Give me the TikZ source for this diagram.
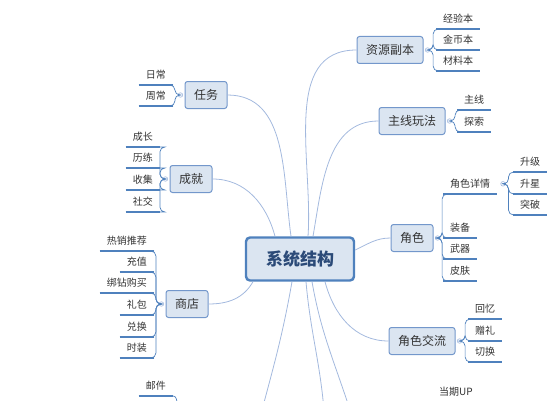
\documentclass[tikz,border=0pt]{standalone}
\usepackage{fontspec}
\setmainfont{Noto Sans CJK SC}
\usepackage{tikz}
\usetikzlibrary{positioning}
\definecolor{mmblue}{HTML}{4F81BD}
\definecolor{mmfill}{HTML}{DBE5F1}
\definecolor{mmedge}{HTML}{7397CB}
\definecolor{mmlink}{HTML}{A3B9DE}
\definecolor{mmink}{HTML}{333333}
\definecolor{mmtitle}{HTML}{2B4A78}

\begin{document}
\begin{tikzpicture}[x=1pt,y=1pt,
  sysbox/.style={draw=mmblue, fill=mmfill, line width=2.4pt, rounded corners=4pt,
    inner xsep=20pt, minimum height=43pt, text=mmtitle, font=\fontsize{17}{20}\selectfont\bfseries},
  branch/.style={draw=mmedge, fill=mmfill, line width=1pt, rounded corners=2.5pt,
    inner xsep=9pt, minimum height=27pt, text=mmink, font=\fontsize{12}{14}\selectfont},
  leaf/.style={inner xsep=7pt, inner ysep=0pt, minimum height=20pt, text=mmink,
    font=\fontsize{10}{12}\selectfont},
  knob/.style={circle, draw=mmlink, fill=white, line width=0.6pt, inner sep=0pt, minimum size=4.5pt},
  link/.style={draw=mmlink, line width=0.8pt},
  brk/.style={draw=mmblue, line width=0.7pt, rounded corners=5pt},
  uline/.style={draw=mmblue, line width=1.6pt}]
  \useasboundingbox (0,0) rectangle (557,400);
  \clip (0,0) rectangle (557,400);

  % centre
  \node[sysbox] (sys) at (300,141) {系统结构};

  % branches
  \node[branch] (zy) at (390,350) {资源副本};
  \node[branch] (zx) at (412,279) {主线玩法};
  \node[branch] (js) at (412,162) {角色};
  \node[branch] (jl) at (422,59) {角色交流};
  \node[branch] (rw) at (206,305) {任务};
  \node[branch] (cj) at (191,221) {成就};
  \node[branch] (sd) at (187,96) {商店};

  \node[knob, right=1.5pt of zy] (zyk) {};
  \node[knob, right=1.5pt of zx] (zxk) {};
  \node[knob, right=1.5pt of js] (jsk) {};
  \node[knob, right=1.5pt of jl] (jlk) {};
  \node[knob, left=1.5pt of rw] (rwk) {};
  \node[knob, left=1.5pt of cj] (cjk) {};
  \node[knob, left=1.5pt of sd] (sdk) {};

  % leaves, right side
  \node[leaf, anchor=south west] (zy1) at (436,371) {经验本};
  \node[leaf, anchor=south west] (zy2) at (436,350) {金币本};
  \node[leaf, anchor=south west] (zy3) at (436,329) {材料本};
  \node[leaf, anchor=south west] (zx1) at (457,290) {主线};
  \node[leaf, anchor=south west] (zx2) at (457,268) {探索};
  \node[leaf, anchor=south west] (js1) at (443,206) {角色详情};
  \node[leaf, anchor=south west] (js2) at (443,162) {装备};
  \node[leaf, anchor=south west] (js3) at (443,141) {武器};
  \node[leaf, anchor=south west] (js4) at (443,119) {皮肤};
  \node[knob, right=3pt of js1] (js1k) {};
  \node[leaf, anchor=south west] (xq1) at (513,228) {升级};
  \node[leaf, anchor=south west] (xq2) at (513,206) {升星};
  \node[leaf, anchor=south west] (xq3) at (513,185) {突破};
  \node[leaf, anchor=south west] (jl1) at (468,81) {回忆};
  \node[leaf, anchor=south west] (jl2) at (468,59) {赠礼};
  \node[leaf, anchor=south west] (jl3) at (468,38) {切换};
  \node[leaf, anchor=south west] (up1) at (432,-2) {当期UP};

  % leaves, left side
  \node[leaf, anchor=south east] (rw1) at (173,315) {日常};
  \node[leaf, anchor=south east] (rw2) at (173,294) {周常};
  \node[leaf, anchor=south east] (cj1) at (160,253) {成长};
  \node[leaf, anchor=south east] (cj2) at (160,232) {历练};
  \node[leaf, anchor=south east] (cj3) at (160,210) {收集};
  \node[leaf, anchor=south east] (cj4) at (160,188) {社交};
  \node[leaf, anchor=south east] (sd1) at (154,149) {热销推荐};
  \node[leaf, anchor=south east] (sd2) at (154,128) {充值};
  \node[leaf, anchor=south east] (sd3) at (154,107) {绑钻购买};
  \node[leaf, anchor=south east] (sd4) at (154,85) {礼包};
  \node[leaf, anchor=south east] (sd5) at (154,63) {兑换};
  \node[leaf, anchor=south east] (sd6) at (154,42) {时装};
  \node[leaf, anchor=south east] (yj1) at (173,4) {邮件};

  % underlines
  \foreach \t in {zy1,zy2,zy3,zx1,zx2,js1,js2,js3,js4,xq1,xq2,xq3,jl1,jl2,jl3,up1,
                  rw1,rw2,cj1,cj2,cj3,cj4,sd1,sd2,sd3,sd4,sd5,sd6,yj1}
    \draw[uline] (\t.south west) -- (\t.south east);

  % brackets
  \foreach \t in {zy1,zy2,zy3} \draw[brk] (zyk.east) -- ++(3pt,0) |- (\t.south west);
  \foreach \t in {zx1,zx2} \draw[brk] (zxk.east) -- ++(3pt,0) |- (\t.south west);
  \foreach \t in {js1,js2,js3,js4} \draw[brk] (jsk.east) -- ++(2pt,0) |- (\t.south west);
  \foreach \t in {xq1,xq2,xq3} \draw[brk] (js1k.east) -- ++(3pt,0) |- (\t.south west);
  \foreach \t in {jl1,jl2,jl3} \draw[brk] (jlk.east) -- ++(3pt,0) |- (\t.south west);
  \foreach \t in {rw1,rw2} \draw[brk] (rwk.west) -- ++(-3pt,0) |- (\t.south east);
  \foreach \t in {cj1,cj2,cj3,cj4} \draw[brk] (cjk.west) -- ++(-3pt,0) |- (\t.south east);
  \foreach \t in {sd1,sd2,sd3,sd4,sd5,sd6} \draw[brk] (sdk.west) -- ++(-3pt,0) |- (\t.south east);
  \draw[brk] (yj1.south east) to[out=0,in=90] ++(4pt,-8pt);

  % links from the centre
  \coordinate (d1) at (262,-10);
  \coordinate (d2) at (324,-10);
  \coordinate (d3) at (350,-10);
  \draw[link] ([xshift=8pt]sys.north) to[out=86,in=180] (zy.west);
  \draw[link] ([xshift=13pt]sys.north) to[out=80,in=180] (zx.west);
  \draw[link] ([xshift=-9pt]sys.north) to[out=98,in=0] (rw.east);
  \draw[link] ([xshift=-25pt]sys.north) to[out=105,in=0] (cj.east);
  \draw[link] ([xshift=-47pt]sys.south) to[out=-120,in=0] (sd.east);
  \draw[link] ([yshift=9pt]sys.east) to[out=25,in=180] (js.west);
  \draw[link] ([xshift=25pt]sys.south) to[out=-75,in=180] (jl.west);
  \draw[link] ([xshift=-8pt]sys.south) to[out=-100,in=75] (d1);
  \draw[link] ([xshift=6pt]sys.south) to[out=-85,in=95] (d2);
  \draw[link] ([xshift=12pt]sys.south) to[out=-80,in=108] (d3);
\end{tikzpicture}
\end{document}
